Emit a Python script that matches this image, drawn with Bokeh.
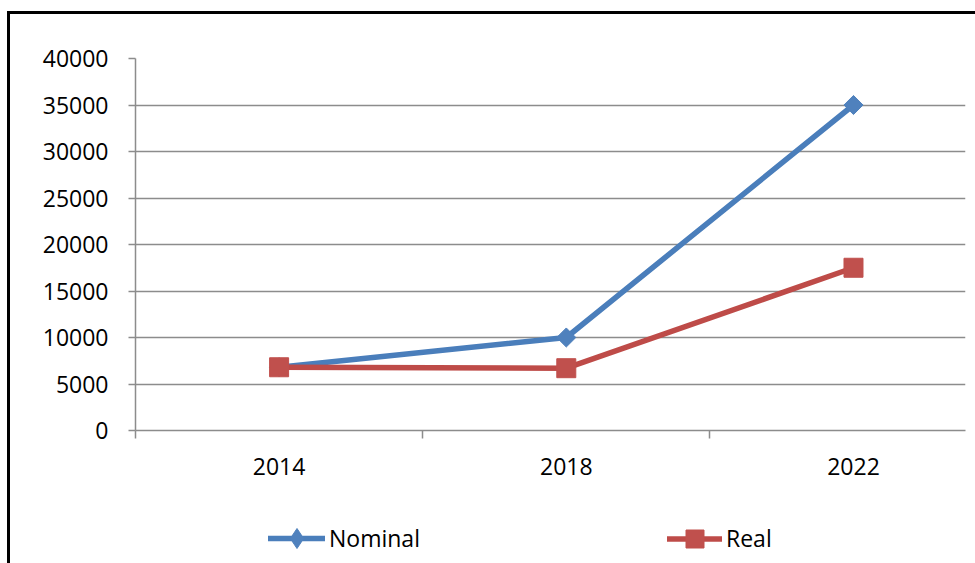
from bokeh.plotting import figure
from bokeh.layouts import column
from bokeh.models import FixedTicker, Legend, LegendItem, Range1d
from bokeh.embed import file_html
from bokeh.resources import INLINE

# Data
years = ["2014", "2018", "2022"]
nominal = [6800, 10000, 35000]
real = [6800, 6700, 17500]
y_ticks = [0, 5000, 10000, 15000, 20000, 25000, 30000, 35000, 40000]

xs = list(range(len(years)))

BLUE_LINE = "#4a7ebb"
BLUE_MARK = "#4f81bd"
RED_LINE = "#be4b48"
RED_MARK = "#c0504d"
GRID = "#8c8c8c"
FONT = "Open Sans"
FSIZE = "23px"

# Main chart
p = figure(
    width=965, height=486,
    x_range=Range1d(-0.5, 2.39),
    y_range=Range1d(0, 40000),
    output_backend="svg",
    toolbar_location=None,
    min_border_left=125, min_border_right=10,
    min_border_top=44, min_border_bottom=70,
    background_fill_color="white",
    border_fill_color="white",
)
p.outline_line_color = None

# Y axis and horizontal gridlines
p.yaxis.ticker = FixedTicker(ticks=y_ticks)
p.ygrid.ticker = FixedTicker(ticks=y_ticks)
p.ygrid.grid_line_color = GRID
p.ygrid.grid_line_width = 1.5
p.xgrid.visible = False
p.yaxis.axis_line_color = GRID
p.yaxis.axis_line_width = 1.5
p.yaxis.major_tick_line_color = GRID
p.yaxis.major_tick_line_width = 1.5
p.yaxis.major_tick_out = 7
p.yaxis.major_tick_in = 0
p.yaxis.minor_tick_line_color = None
p.yaxis.major_label_standoff = 20

# Category axis: labels centred in each band, ticks on band boundaries
p.xaxis.ticker = FixedTicker(ticks=xs, minor_ticks=[x - 0.5 for x in xs] + [xs[-1] + 0.5])
p.xaxis.major_label_overrides = {x: y for x, y in zip(xs, years)}
p.xaxis.axis_line_color = GRID
p.xaxis.axis_line_width = 1.5
p.xaxis.major_tick_line_color = None
p.xaxis.major_tick_out = 0
p.xaxis.major_tick_in = 0
p.xaxis.minor_tick_line_color = GRID
p.xaxis.minor_tick_line_width = 1.5
p.xaxis.minor_tick_out = 8
p.xaxis.minor_tick_in = 0
p.xaxis.major_label_standoff = 19

for ax in (p.xaxis, p.yaxis):
    ax.major_label_text_font = FONT
    ax.major_label_text_font_size = FSIZE
    ax.major_label_text_color = "black"

# Series
line_style = dict(line_width=5.5, line_join="round", line_cap="round")
nom_line = p.line(xs, nominal, line_color=BLUE_LINE, **line_style)
nom_mark = p.scatter(xs, nominal, marker="square", size=13.5, angle=0.785398,
                     fill_color=BLUE_MARK, line_color=BLUE_MARK)
real_line = p.line(xs, real, line_color=RED_LINE, **line_style)
real_mark = p.scatter(xs, real, marker="square", size=19,
                      fill_color=RED_MARK, line_color=RED_MARK)

# Legend strip underneath the chart (its frame lines up with the chart's frame)
leg = figure(
    width=965, height=63,
    x_range=Range1d(0, 830), y_range=Range1d(0, 63),
    x_axis_type=None, y_axis_type=None,
    output_backend="svg",
    toolbar_location=None,
    min_border=0,
    background_fill_color="white",
    border_fill_color="white",
)
leg.outline_line_color = None
leg.xgrid.visible = False
leg.ygrid.visible = False

# Legend keys share the series styling; the series values fall outside
# this strip's y range, so only the legend keys show
k_nom_line = leg.line(xs, nominal, line_color=BLUE_LINE, **line_style)
k_nom_mark = leg.scatter(xs, nominal, marker="diamond",
                         fill_color=BLUE_MARK, line_color=BLUE_MARK)
k_real_line = leg.line(xs, real, line_color=RED_LINE, **line_style)
k_real_mark = leg.scatter(xs, real, marker="square",
                          fill_color=RED_MARK, line_color=RED_MARK)


def make_legend(label, renderers, loc, gw, gh):
    lg = Legend(items=[LegendItem(label=label, renderers=renderers)],
                location=loc, orientation="horizontal",
                glyph_width=gw, glyph_height=gh, label_standoff=4,
                padding=0, margin=0, border_line_color=None,
                background_fill_alpha=0,
                label_text_font=FONT, label_text_font_size=FSIZE,
                label_text_color="black")
    leg.add_layout(lg, "center")


make_legend("Nominal", [k_nom_line, k_nom_mark], (133, 0), 57, 50)
make_legend("Real", [k_real_line, k_real_mark], (532, 2.5), 55, 45)

layout = column(p, leg, spacing=0)
# Framed chart area: black rule on the left and top edges
layout.styles = {
    "margin-left": "7px",
    "margin-top": "11px",
    "border-left": "3px solid black",
    "border-top": "3px solid black",
}

open("out.html", "w").write(file_html(layout, INLINE))
